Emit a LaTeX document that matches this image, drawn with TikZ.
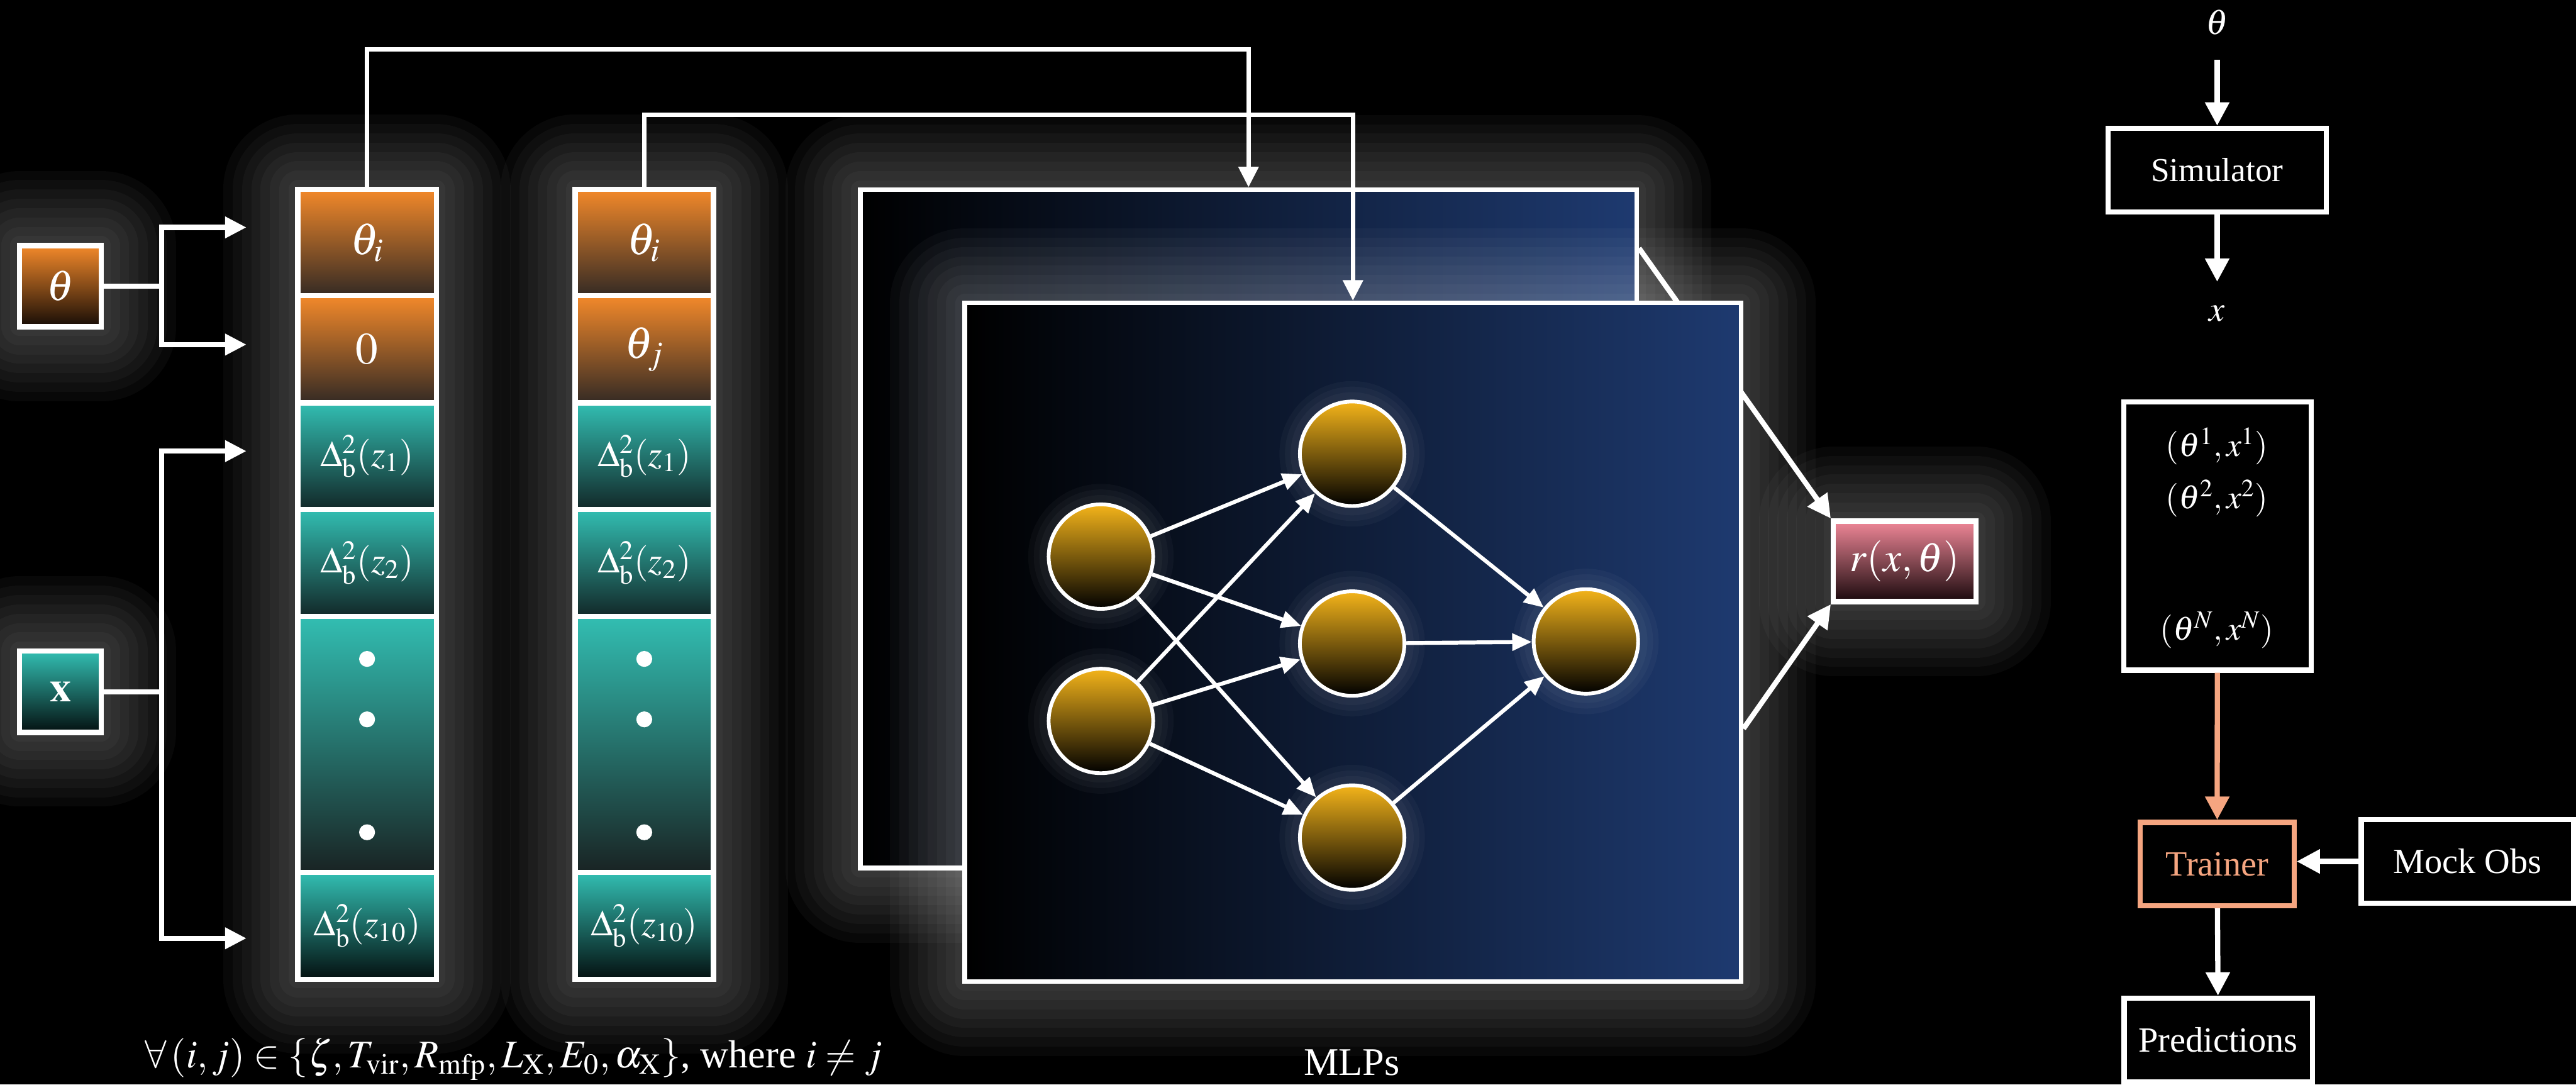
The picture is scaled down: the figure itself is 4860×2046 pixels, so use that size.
\documentclass[tikz,border=0pt]{standalone}
\usepackage{mathptmx}
\usepackage{fontspec}
\setmainfont{Liberation Serif}
\usetikzlibrary{arrows.meta}
\definecolor{org}{RGB}{243,137,42}
\definecolor{orgdk}{RGB}{52,42,36}
\definecolor{thdk}{RGB}{22,12,6}
\definecolor{tealc}{RGB}{50,190,178}
\definecolor{tealdk}{RGB}{18,40,40}
\definecolor{dotdk}{RGB}{25,35,35}
\definecolor{xdk}{RGB}{4,16,16}
\definecolor{navy}{RGB}{30,58,112}
\definecolor{gold}{RGB}{244,180,26}
\definecolor{pinkc}{RGB}{240,136,152}
\definecolor{pinkdk}{RGB}{25,8,12}
\definecolor{salmon}{RGB}{245,165,128}
\begin{document}
\begin{tikzpicture}[x=0.01cm,y=-0.01cm,
  every node/.append style={text=white},
  gl/.style={preaction={draw=white,line join=round,opacity=0.03,line width=#1}},
  glow/.style={gl=80pt,gl=70pt,gl=60pt,gl=50pt,gl=40pt,gl=30pt,gl=20pt,gl=10pt},
  sglow/.style={gl=22pt,gl=16pt,gl=10pt},
  cell/.style={draw=white,line width=2.8pt,minimum width=2.61cm,inner sep=0pt,font=\fontsize{24}{28}\selectfont},
  ocell/.style={cell,top color=org,bottom color=orgdk},
  tcell/.style={cell,top color=tealc,bottom color=tealdk,font=\fontsize{19.5}{23}\selectfont},
  conn/.style={draw=white,line width=2.3pt,-{Triangle[length=11pt,width=10.5pt]}},
  conn2/.style={draw=white,line width=2.8pt,line join=miter,-{Triangle[length=11.5pt,width=11pt]}},
  rbox/.style={draw=white,line width=2.8pt,fill=black,inner sep=0pt,font=\fontsize{19}{23}\selectfont},
  rarr/.style={draw=white,line width=2.8pt,-{Triangle[length=12.5pt,width=12.5pt]}},
  neuron/.style={circle,draw=white,line width=2pt,minimum size=1.97cm,top color=gold,bottom color=black,inner sep=0pt},
  nnarr/.style={draw=white,line width=2.1pt,-{Triangle[length=10.5pt,width=9pt]}},
  panel/.style={draw=white,line width=2.5pt,left color=black,right color=navy,minimum width=14.64cm,minimum height=12.79cm,inner sep=0pt}
]
\fill[black] (0,0) rectangle (4860,2046);
\useasboundingbox (0,0) rectangle (4860,2046);

% glows of the left part
\path[glow] (562,357) rectangle (823,1847);
\path[glow] (1085,357) rectangle (1346,1847);
\path[glow] (37,463) rectangle (191,616);
\path[glow] (37,1228) rectangle (191,1381);

% input boxes
\node[cell,top color=org,bottom color=thdk,minimum width=1.54cm,minimum height=1.53cm,font=\fontsize{23}{27}\selectfont] (thin) at (114,540) {$\theta$};
\node[cell,top color=tealc,bottom color=xdk,minimum width=1.54cm,minimum height=1.53cm,font=\fontsize{23}{27}\selectfont] (xin) at (114,1305) {$\mathbf{x}$};

\coordinate (ta) at (465,429);
\coordinate (tb) at (465,650);
\coordinate (xa) at (465,851);
\coordinate (xb) at (465,1770);
\draw[conn2] (thin.east) -- ++(109,0) |- (ta);
\draw[conn2] (thin.east) -- ++(109,0) |- (tb);
\draw[conn2] (xin.east) -- ++(109,0) |- (xa);
\draw[conn2] (xin.east) -- ++(109,0) |- (xb);

% column 1
\node[ocell,minimum height=2.01cm] (c1a) at (692.5,457.5) {$\theta_i$};
\node[ocell,minimum height=2.02cm] (c1b) at (692.5,659) {$0$};
\node[tcell,minimum height=2.01cm] (c1c) at (692.5,860.5) {$\Delta^2_{\mathrm{b}}(z_1)$};
\node[tcell,minimum height=2.02cm] (c1d) at (692.5,1062) {$\Delta^2_{\mathrm{b}}(z_2)$};
\node[tcell,bottom color=dotdk,minimum height=4.83cm] (c1e) at (692.5,1404.5) {};
\node[tcell,bottom color=xdk,minimum height=2.01cm] (c1f) at (692.5,1746.5) {$\Delta^2_{\mathrm{b}}(z_{10})$};
% column 2
\node[ocell,minimum height=2.01cm] (c2a) at (1215.5,457.5) {$\theta_i$};
\node[ocell,minimum height=2.02cm] (c2b) at (1215.5,659) {$\theta_j$};
\node[tcell,minimum height=2.01cm] (c2c) at (1215.5,860.5) {$\Delta^2_{\mathrm{b}}(z_1)$};
\node[tcell,minimum height=2.02cm] (c2d) at (1215.5,1062) {$\Delta^2_{\mathrm{b}}(z_2)$};
\node[tcell,bottom color=dotdk,minimum height=4.83cm] (c2e) at (1215.5,1404.5) {};
\node[tcell,bottom color=xdk,minimum height=2.01cm] (c2f) at (1215.5,1746.5) {$\Delta^2_{\mathrm{b}}(z_{10})$};
% dots
\foreach \cx in {692.5,1215.5}{
  \fill[white] (\cx,1243) circle[radius=0.15cm];
  \fill[white] (\cx,1357) circle[radius=0.15cm];
  \fill[white] (\cx,1570) circle[radius=0.15cm];
}

% result box
\node[draw=white,line width=2.8pt,top color=pinkc,bottom color=pinkdk,minimum width=2.69cm,minimum height=1.52cm,inner sep=0pt,glow,font=\fontsize{22}{26}\selectfont] (r) at (3593.5,1059) {$r(x,\theta)$};

% panels
\node[panel,glow] (backp) at (2355.5,997.5) {};
\draw[rarr] ([yshift=-1.15cm]backp.north east) -- (r.north west);
\node[panel,glow] (frontp) at (2552.5,1211.5) {};
\draw[rarr] ([yshift=4.81cm]frontp.south east) -- (r.south west);

% top connectors
\draw[conn] (c1a.north) -- ++(0,-259) -| (backp.north);
\draw[conn] (c2a.north) -- ++(0,-135) -| (frontp.north);

% network
\node[neuron,sglow] (i1) at (2077,1050) {};
\node[neuron,sglow] (i2) at (2077,1360) {};
\node[neuron,sglow] (h1) at (2551,856) {};
\node[neuron,sglow] (h2) at (2551,1214) {};
\node[neuron,sglow] (h3) at (2551,1580) {};
\node[neuron,sglow] (o) at (2992,1210) {};
\foreach \a in {i1,i2}{\foreach \b in {h1,h2,h3}{\draw[nnarr] (\a) -- (\b);}}
\foreach \b in {h1,h2,h3}{\draw[nnarr] (\b) -- (o);}

% captions
\node[font=\fontsize{21}{25}\selectfont] (cap) at (969,1998) {$\forall\,(i,j)\in\{\zeta,T_{\mathrm{vir}},R_{\mathrm{mfp}},L_{\mathrm{X}},E_0,\alpha_{\mathrm{X}}\}$, where $i\neq j$};
\node[font=\fontsize{21}{25}\selectfont] (mlp) at (2550,2005) {MLPs};

% right-hand pipeline
\node[inner sep=0pt,outer sep=13.5pt,font=\fontsize{19}{23}\selectfont] (thR) at (4183,42) {$\theta$};
\node[rbox,minimum width=4.11cm,minimum height=1.58cm,font=\fontsize{18}{22}\selectfont] (sim) at (4183,321) {Simulator};
\node[inner sep=0pt,outer sep=12.7pt,font=\fontsize{19}{23}\selectfont] (xR) at (4183,591) {$x$};
\draw[rarr] (thR) -- (sim);
\draw[rarr] (sim) -- (xR);

\node[rbox,minimum width=3.53cm,minimum height=5.06cm] (data) at (4183.5,1011) {};
\node[font=\fontsize{18}{22}\selectfont] (d1) at (4182,842) {$(\theta^1,x^1)$};
\node[font=\fontsize{18}{22}\selectfont] (d2) at (4182,940) {$(\theta^2,x^2)$};
\node[font=\fontsize{18}{22}\selectfont] (dn) at (4182,1189) {$(\theta^N,x^N)$};

\node[rbox,draw=salmon,text=salmon,minimum width=2.9cm,minimum height=1.57cm] (tr) at (4183,1630) {Trainer};
\node[rbox,minimum width=4.0cm,minimum height=1.58cm] (mock) at (4655,1625) {Mock Obs};
\node[rbox,minimum width=3.55cm,minimum height=1.58cm] (pred) at (4185,1962) {Predictions};
\draw[rarr,draw=salmon] (data) -- (tr);
\draw[rarr] (mock.west) -- (mock.west -| tr.east);
\draw[rarr] (tr) -- (pred);
\end{tikzpicture}
\end{document}
